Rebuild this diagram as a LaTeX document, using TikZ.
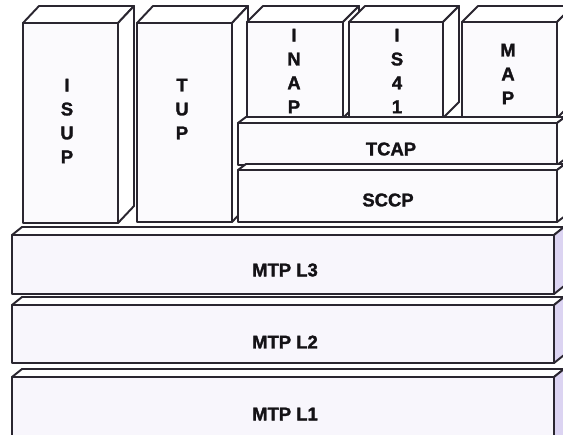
\documentclass[tikz,border=0pt]{standalone}
\usepackage{fontspec}
\setmainfont{Liberation Sans}[BoldFeatures={FakeBold=1.6}]
\usepackage{tikz}
\definecolor{SSLine}{HTML}{2A2630}
\definecolor{SSFront}{HTML}{FBFAFD}
\definecolor{SSLow}{HTML}{F8F6FC}
\definecolor{SSSide}{HTML}{DCD4F2}
\definecolor{SSText}{HTML}{141216}

% box with top and right faces: x1 y1 x2 y2 dx dy sidecolour frontcolour
\newcommand{\protobox}[8]{%
  \filldraw[boxline,fill=white] (#1,#2) -- (#1+#5,#2-#6) -- (#3+#5,#2-#6) -- (#3,#2) -- cycle;
  \filldraw[boxline,fill=#7] (#3,#2) -- (#3+#5,#2-#6) -- (#3+#5,#4-#6) -- (#3,#4) -- cycle;
  \filldraw[boxline,fill=#8] (#1,#2) rectangle (#3,#4);}

\begin{document}
\begin{tikzpicture}[x=0.02cm,y=-0.02cm,
  boxline/.style={draw=SSLine,line width=1.1pt,line join=round},
  lbl/.style={font=\bfseries\fontsize{10.5}{13.6}\selectfont,align=center,text=SSText,inner sep=0pt}]
\useasboundingbox (0,0) rectangle (563,434);
\clip (0,0) rectangle (563,434);
\fill[white] (0,0) rectangle (563,434);
% user parts
\protobox{23}{23}{118}{223}{16}{17}{white}{SSFront}
\protobox{137}{23}{232}{222}{16}{17}{white}{SSFront}
\protobox{247}{22}{343}{118}{16}{16}{white}{SSFront}
\protobox{349}{22}{443}{118}{16}{16}{white}{SSFront}
\protobox{462}{22}{557}{118}{16}{16}{white}{SSFront}
% transaction and connection control
\protobox{238}{123}{557}{165}{8}{6}{white}{SSFront}
\protobox{238}{170}{557}{222}{8}{6}{white}{SSFront}
\node[lbl] (isup) at (67,121) {I\\S\\U\\P};
\node[lbl] (tup) at (182,109) {T\\U\\P};
\node[lbl] (inap) at (294,71) {I\\N\\A\\P};
\node[lbl] (is41) at (397,71) {I\\S\\4\\1};
\node[lbl] (map) at (508,74) {M\\A\\P};
\node[lbl] (tcap) at (391,149) {TCAP};
\node[lbl] (sccp) at (388,200) {SCCP};
% message transfer part
\protobox{12}{235}{554}{294}{10}{8}{SSSide}{SSLow}
\protobox{12}{305}{554}{363}{10}{8}{SSSide}{SSLow}
\protobox{12}{377}{554}{445}{10}{8}{SSSide}{SSLow}
\node[lbl] (mtp3) at (285,270) {MTP L3};
\node[lbl] (mtp2) at (285,342) {MTP L2};
\node[lbl] (mtp1) at (285,414) {MTP L1};
\end{tikzpicture}
\end{document}
